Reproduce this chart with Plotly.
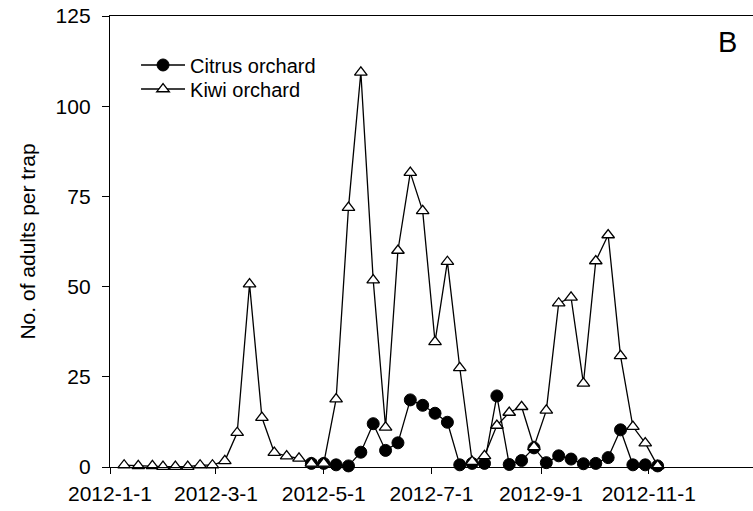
import plotly.graph_objects as go

# Sampling dates (weekly trap checks, 2012)
kiwi_dates = [
    "2012-01-09", "2012-01-17", "2012-01-25", "2012-01-31", "2012-02-07",
    "2012-02-14", "2012-02-21", "2012-02-28", "2012-03-06", "2012-03-13",
    "2012-03-20", "2012-03-27", "2012-04-03", "2012-04-10", "2012-04-17",
    "2012-04-24", "2012-05-01", "2012-05-08", "2012-05-15", "2012-05-22",
    "2012-05-29", "2012-06-05", "2012-06-12", "2012-06-19", "2012-06-26",
    "2012-07-03", "2012-07-10", "2012-07-17", "2012-07-24", "2012-07-31",
    "2012-08-07", "2012-08-14", "2012-08-21", "2012-08-28", "2012-09-04",
    "2012-09-11", "2012-09-18", "2012-09-25", "2012-10-02", "2012-10-09",
    "2012-10-16", "2012-10-23", "2012-10-30", "2012-11-06",
]
kiwi_counts = [
    0.5, 0.3, 0.3, 0.1, 0.1, 0.1, 0.5, 0.5, 1.7, 9.5,
    50.7, 13.7, 4.0, 3.0, 2.4, 1.0, 1.0, 18.8, 71.9, 109.4,
    51.8, 11.0, 60.0, 81.6, 71.0, 34.7, 56.9, 27.5, 1.5, 3.1,
    11.5, 15.1, 16.7, 5.6, 15.7, 45.4, 47.0, 23.2, 57.1, 64.3,
    30.8, 11.2, 6.6, 0.3,
]

citrus_dates = kiwi_dates[15:]
citrus_counts = [
    1.0, 1.0, 0.6, 0.3, 4.1, 12.0, 4.6, 6.7, 18.6, 17.1,
    14.9, 12.4, 0.6, 1.0, 1.0, 19.7, 0.7, 1.8, 5.3, 1.2,
    3.1, 2.2, 0.9, 1.0, 2.6, 10.3, 0.6, 0.6, 0.3,
]

tick_dates = ["2012-01-01", "2012-03-01", "2012-05-01", "2012-07-01", "2012-09-01", "2012-11-01"]
tick_labels = ["2012-1-1", "2012-3-1", "2012-5-1", "2012-7-1", "2012-9-1", "2012-11-1"]
y_ticks = [0, 25, 50, 75, 100, 125]

FONT = "Liberation Sans, Arial, sans-serif"
LEGEND_FONT = dict(family=FONT, size=20, color="black")

fig = go.Figure()
fig.add_trace(go.Scatter(
    x=citrus_dates, y=citrus_counts, name="Citrus orchard",
    mode="lines+markers", cliponaxis=False, legend="legend",
    line=dict(color="black", width=1.3),
    marker=dict(symbol="circle", size=12, color="black",
                line=dict(color="black", width=1)),
))
fig.add_trace(go.Scatter(
    x=kiwi_dates, y=kiwi_counts, name="Kiwi orchard",
    mode="lines+markers", cliponaxis=False, legend="legend2",
    line=dict(color="black", width=1.3),
    marker=dict(symbol="triangle-up", size=11, color="white",
                line=dict(color="black", width=1.3)),
))

# one legend box per series so the two rows sit close together
legend_common = dict(
    x=0.0405, xanchor="left", yanchor="middle",
    bgcolor="rgba(0,0,0,0)", borderwidth=0,
    font=LEGEND_FONT, itemwidth=44,
)

fig.update_layout(
    width=753, height=511,
    margin=dict(l=110, r=0, t=16, b=44),
    paper_bgcolor="white", plot_bgcolor="white",
    font=dict(family=FONT, size=21, color="black"),
    showlegend=True,
    legend=dict(y=0.8914, **legend_common),
    legend2=dict(y=0.8381, **legend_common),
    annotations=[dict(
        text="B", x=0.961, y=0.942, xref="paper", yref="paper",
        showarrow=False, font=dict(family=FONT, size=29, color="black"),
        xanchor="center", yanchor="middle",
    )],
)

fig.update_xaxes(
    type="date", range=["2012-01-01", "2012-12-30"],
    tickvals=tick_dates, ticktext=tick_labels,
    ticks="outside", ticklen=6, tickwidth=1.3, tickcolor="black",
    ticklabelstandoff=2,
    showline=True, linecolor="black", linewidth=1.3, mirror=True,
    showgrid=False, zeroline=False,
    tickfont=dict(family=FONT, size=21, color="black"),
)
fig.update_yaxes(
    range=[0, 125], tickvals=y_ticks,
    ticks="outside", ticklen=7, tickwidth=1.3, tickcolor="black",
    ticklabelstandoff=7,
    showline=True, linecolor="black", linewidth=1.3,
    showgrid=False, zeroline=False,
    tickfont=dict(family=FONT, size=21, color="black"),
    title=dict(text="No. of adults per trap", standoff=14,
               font=dict(family=FONT, size=21, color="black")),
)

fig.write_html("out.html")
